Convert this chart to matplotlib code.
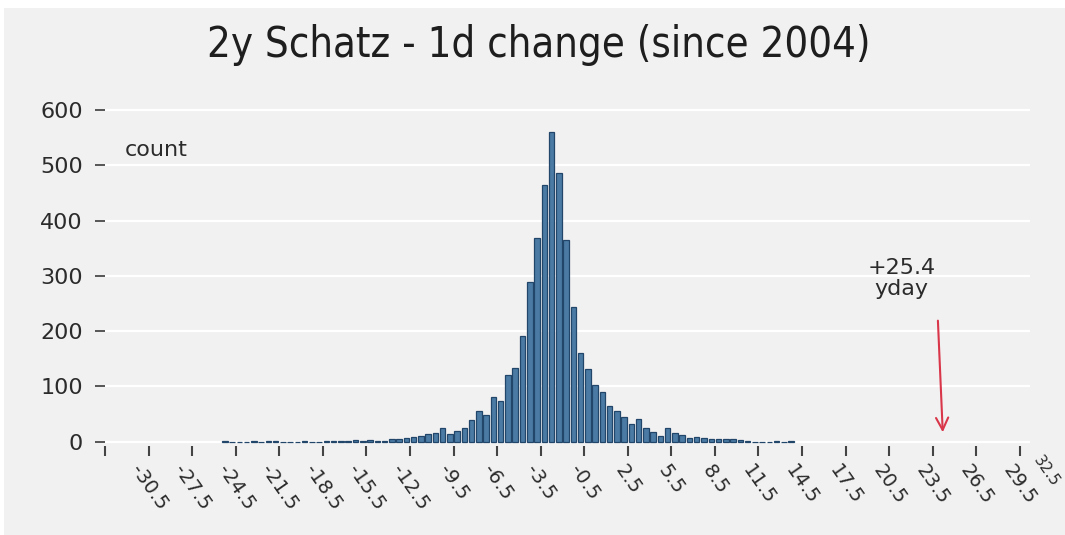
import matplotlib
matplotlib.use("Agg")
import matplotlib.pyplot as plt
from matplotlib.patches import Rectangle

# ---- data ----
bin_centers = [
    -25.25, -24.75, -24.25, -23.75, -23.25, -22.75, -22.25, -21.75, -21.25, -20.75,
    -20.25, -19.75, -19.25, -18.75, -18.25, -17.75, -17.25, -16.75, -16.25, -15.75,
    -15.25, -14.75, -14.25, -13.75, -13.25, -12.75, -12.25, -11.75, -11.25, -10.75,
    -10.25, -9.75, -9.25, -8.75, -8.25, -7.75, -7.25, -6.75, -6.25, -5.75,
    -5.25, -4.75, -4.25, -3.75, -3.25, -2.75, -2.25, -1.75, -1.25, -0.75,
    -0.25, 0.25, 0.75, 1.25, 1.75, 2.25, 2.75, 3.25, 3.75, 4.25,
    4.75, 5.25, 5.75, 6.25, 6.75, 7.25, 7.75, 8.25, 8.75, 9.25,
    9.75, 10.25, 10.75, 11.25, 11.75, 12.25, 12.75, 13.25, 13.75,
]
counts = [
    1, 0, 0, 0, 1, 0, 1, 1, 0, 0,
    0, 1, 0, 0, 1, 1, 2, 1, 3, 1,
    3, 2, 2, 4, 4, 6, 9, 11, 13, 15,
    25, 14, 20, 25, 39, 55, 49, 80, 74, 121,
    134, 192, 288, 368, 464, 561, 487, 365, 244, 161,
    131, 103, 89, 64, 55, 45, 32, 41, 24, 18,
    10, 24, 16, 12, 7, 8, 7, 4, 5, 4,
    5, 3, 2, 0, 0, 0, 1, 0, 1,
]
x_ticks = [-30.5, -27.5, -24.5, -21.5, -18.5, -15.5, -12.5, -9.5, -6.5, -3.5,
           -0.5, 2.5, 5.5, 8.5, 11.5, 14.5, 17.5, 20.5, 23.5, 26.5, 29.5]
x_tick_labels = ["-30.5", "-27.5", "-24.5", "-21.5", "-18.5", "-15.5", "-12.5",
                 "-9.5", "-6.5", "-3.5", "-0.5", "2.5", "5.5", "8.5", "11.5",
                 "14.5", "17.5", "20.5", "23.5", "26.5", "29.5"]
last_label = "32.5"
y_ticks = [0, 100, 200, 300, 400, 500, 600]
title = "2y Schatz - 1d change (since 2004)"
annotation_text = "+25.4\nyday"

# ---- style ----
W, H = 1065, 535
bg = "#f1f1f1"
bar_face = "#4b7ba4"
bar_edge = "#22466a"
txt = "#2b2b2b"

fig = plt.figure(figsize=(W / 100, H / 100), dpi=100)
fig.patch.set_facecolor("white")
fig.add_artist(Rectangle((4 / W, 0), 1, 1 - 8 / H, transform=fig.transFigure,
                         facecolor=bg, edgecolor="none", zorder=-10))

ax_left, ax_right = 105 / W, 1030 / W
ax_bottom = (H - 446.1) / H
ax_top = (H - 99) / H
ax = fig.add_axes([ax_left, ax_bottom, ax_right - ax_left, ax_top - ax_bottom])
ax.set_facecolor(bg)

ax.bar(bin_centers, counts, width=0.38, color=bar_face, edgecolor=bar_edge,
       linewidth=0.9, zorder=3)

ax.set_xlim(-33.5, 30.2)
ax.set_ylim(-8, 620)

for s in ax.spines.values():
    s.set_visible(False)

ax.set_yticks(y_ticks)
ax.set_yticklabels([str(v) for v in y_ticks])
ax.yaxis.grid(True, color="white", linewidth=1.6, zorder=0)
ax.xaxis.grid(False)
ax.tick_params(axis="y", length=7, width=1.4, color="#555555", pad=9,
               labelsize=16, labelcolor=txt)

ax.set_xticks([-33.5] + x_ticks)
ax.set_xticklabels([""] + x_tick_labels, rotation=-55, ha="center", va="top")
ax.tick_params(axis="x", length=7, width=1.5, color="#444444", pad=4,
               labelsize=14, labelcolor=txt)
# extra squeezed final label as in the reference
ax.text(31.3, -20, last_label, rotation=-55, ha="center", va="top",
        fontsize=11, color=txt, clip_on=False)

fig.text(539 / W, 1 - 45 / H, title, ha="center", va="center",
         fontsize=30, color="#1e1e1e", family="DejaVu Sans",
         fontstretch="condensed")

fig.text(125 / W, 1 - 150 / H, "count", ha="left", va="center",
         fontsize=16, color=txt)

ax.text(21.35, 295, annotation_text, ha="center", va="center",
        fontsize=16, color=txt, linespacing=1.1, zorder=5)
ax.annotate("", xy=(24.2, 12), xytext=(23.85, 224),
            arrowprops=dict(arrowstyle="->", color="#d9364a", lw=1.5,
                            mutation_scale=22), zorder=5)

fig.savefig("out.png", dpi=100, facecolor=fig.get_facecolor())
